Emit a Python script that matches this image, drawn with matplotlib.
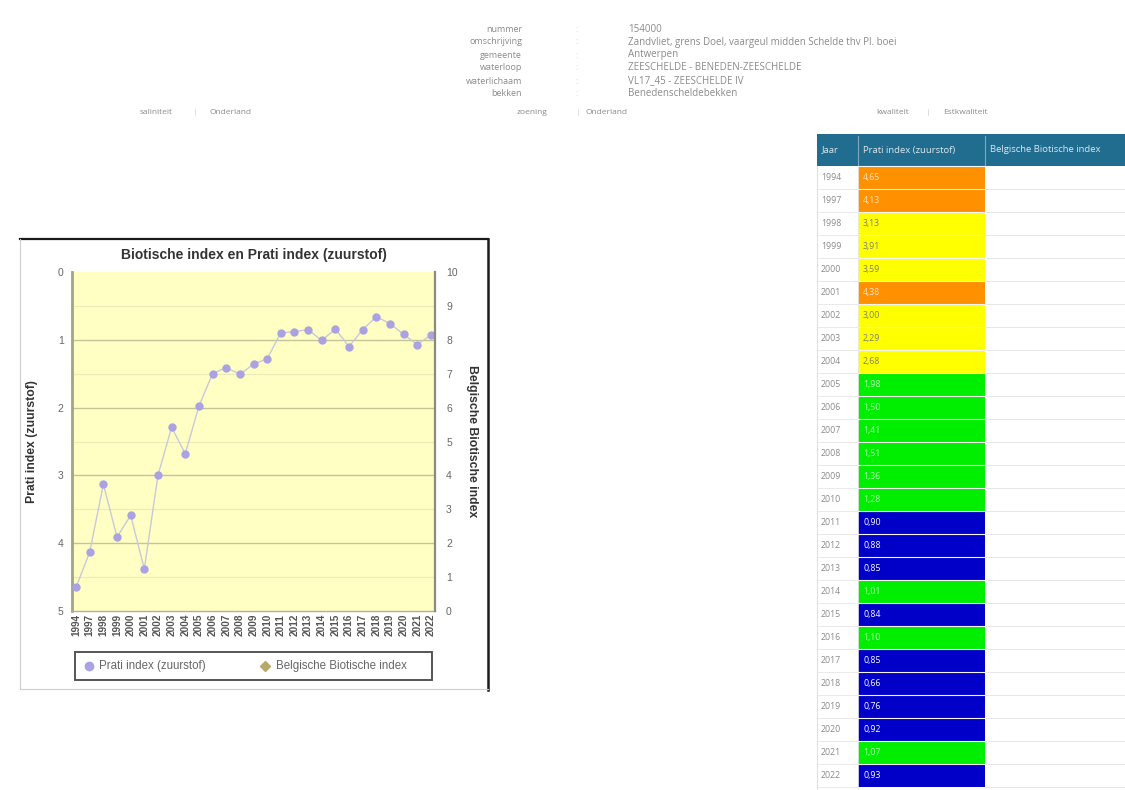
import numpy as np
import matplotlib
matplotlib.use("Agg")
import matplotlib.pyplot as plt
from matplotlib.patches import Rectangle

# ---------------- data ----------------
years = ['1994', '1997', '1998', '1999', '2000', '2001', '2002', '2003', '2004',
         '2005', '2006', '2007', '2008', '2009', '2010', '2011', '2012', '2013',
         '2014', '2015', '2016', '2017', '2018', '2019', '2020', '2021', '2022']
prati = [4.65, 4.13, 3.13, 3.91, 3.59, 4.38, 3.00, 2.29, 2.68,
         1.98, 1.50, 1.41, 1.51, 1.36, 1.28, 0.90, 0.88, 0.85,
         1.01, 0.84, 1.10, 0.85, 0.66, 0.76, 0.92, 1.07, 0.93]
bbi = []  # Belgische Biotische index: no values

info_labels = ['nummer', 'omschrijving', 'gemeente', 'waterloop', 'waterlichaam', 'bekken']
info_values = ['154000',
               'Zandvliet, grens Doel, vaargeul midden Schelde thv Pl. boei',
               'Antwerpen',
               'ZEESCHELDE - BENEDEN-ZEESCHELDE',
               'VL17_45 - ZEESCHELDE IV',
               'Benedenscheldebekken']
table_header = ['Jaar', 'Prati index (zuurstof)', 'Belgische Biotische index']
legend_labels = ['Prati index (zuurstof)', 'Belgische Biotische index']
left_ticks = [0, 1, 2, 3, 4, 5]
right_ticks = list(range(11))

W, H = 1125, 790
fig = plt.figure(figsize=(W / 100, H / 100), dpi=100)
fig.patch.set_facecolor('white')

# background axes in pixel coordinates
bg = fig.add_axes([0, 0, 1, 1])
bg.set_xlim(0, W)
bg.set_ylim(H, 0)
bg.axis('off')

page_font = ['Open Sans', 'DejaVu Sans']
chart_font = ['Liberation Sans', 'DejaVu Sans']
txt_col = '#8a8a8a'

# top info block
for i, (lab, val) in enumerate(zip(info_labels, info_values)):
    y = 29 + i * 13
    bg.text(522, y, lab, ha='right', va='center', fontsize=6.5, color=txt_col, family=page_font)
    bg.text(577, y, ':', ha='center', va='center', fontsize=6.5, color='#c8c8c8', family=page_font)
    bg.text(628, y, val, ha='left', va='center', fontsize=7, color=txt_col, family=page_font)

# link rows
links = [(140, 'saliniteit', 210, 'Onderland', 195),
         (517, 'zoening', 586, 'Onderland', 578),
         (876, 'kwaliteit', 943, 'Estkwaliteit', 928)]
for x1, t1, x2, t2, xs in links:
    bg.text(x1, 112, t1, ha='left', va='center', fontsize=6, color=txt_col, family=page_font)
    bg.text(xs, 112, '|', ha='center', va='center', fontsize=6, color='#d0d0d0', family=page_font)
    bg.text(x2, 112, t2, ha='left', va='center', fontsize=6, color=txt_col, family=page_font)

# ---------------- table ----------------
col_x = [817, 858, 985, 1125]
head_top, head_h = 134, 32
row_h = 23.0
bg.add_patch(Rectangle((col_x[0], head_top), col_x[-1] - col_x[0], head_h,
                       facecolor='#216d90', edgecolor='none'))
for cx in col_x[1:3]:
    bg.plot([cx, cx], [head_top + 2, head_top + head_h], color='#7fa8bf', lw=0.8)
for j, h in enumerate(table_header):
    bg.text(col_x[j] + 5, head_top + head_h / 2, h, ha='left', va='center',
            fontsize=6.8, color='#dce8ee', family=page_font)

palette = {'orange': ('#ff9000', '#ffe2b8'), 'yellow': ('#ffff00', '#808070'),
           'green': ('#00ee00', '#b8ffb8'), 'blue': ('#0000c8', '#ffffff')}


def cell_class(v):
    if v >= 4:
        return 'orange'
    if v >= 2:
        return 'yellow'
    if v >= 1:
        return 'green'
    return 'blue'


for i, (yr, v) in enumerate(zip(years, prati)):
    y0 = head_top + head_h + i * row_h
    fc, tc = palette[cell_class(v)]
    bg.add_patch(Rectangle((col_x[1], y0), col_x[2] - col_x[1], row_h,
                           facecolor=fc, edgecolor='none'))
    bg.plot([col_x[1], col_x[2]], [y0, y0], color='#f4f4f4', lw=0.8)
    bg.plot([col_x[0], col_x[1]], [y0 + row_h, y0 + row_h], color='#e6e6e6', lw=0.6)
    bg.plot([col_x[2], col_x[3]], [y0 + row_h, y0 + row_h], color='#e2e2e2', lw=0.6)
    bg.text(col_x[0] + 4, y0 + row_h / 2, yr, ha='left', va='center',
            fontsize=6.3, color='#8a8a8a', family=page_font)
    bg.text(col_x[1] + 5, y0 + row_h / 2, f'{v:.2f}'.replace('.', ','), ha='left',
            va='center', fontsize=6.3, color=tc, family=page_font)
bg.plot([col_x[0], col_x[0]], [head_top + head_h, H], color='#e0e0e0', lw=0.8)
bg.plot([col_x[1], col_x[1]], [head_top + head_h, H], color='#e8e8e8', lw=0.6)

# ---------------- chart frame ----------------
bg.plot([20, 488], [239, 239], color='#1a1a1a', lw=1.6)
bg.plot([488, 488], [239, 690], color='#1a1a1a', lw=1.8)
bg.plot([20, 20], [239, 689], color='#cfcfcf', lw=0.8)
bg.plot([20, 488], [689, 689], color='#cfcfcf', lw=0.8)

bg.text(254, 255, 'Biotische index en Prati index (zuurstof)', ha='center', va='center',
        fontsize=10, fontweight='bold', color='#333333', family=chart_font)

# legend (drawn as a box below the chart)
bg.add_patch(Rectangle((75, 652), 357, 28, facecolor='white', edgecolor='#555555', lw=1.4))
bg.plot([89], [666], ls='none', marker='o', ms=6, mfc='#aaa2e2', mec='#aaa2e2')
bg.text(99, 666, legend_labels[0], ha='left', va='center', fontsize=8.3,
        color='#666666', family=chart_font)
bg.plot([265], [666], ls='none', marker='D', ms=5, mfc='#b8a86a', mec='#b8a86a')
bg.text(276, 666, legend_labels[1], ha='left', va='center', fontsize=8.3,
        color='#666666', family=chart_font)

# ---------------- chart ----------------
L, R, T, B = 72, 435, 272, 611
ax = fig.add_axes([L / W, 1 - B / H, (R - L) / W, (B - T) / H])
ax.set_facecolor('#ffffc4')
x = np.arange(len(years))

for v in np.arange(0.5, 5, 0.5):
    is_major = float(v).is_integer()
    ax.axhline(v, color='#c4c49a' if is_major else '#ecebb8',
               lw=1.0 if is_major else 0.8, zorder=1)

ax.plot(x, prati, color='#c8c8dc', lw=1.0, marker='o', ms=5,
        mfc='#aaa2e2', mec='#aaa2e2', zorder=3)
ax.set_xlim(-0.3, len(years) - 0.7)
ax.set_ylim(5, 0)
ax.set_yticks(left_ticks)
ax.set_xticks(x)
ax.set_xticklabels(years, rotation=90, fontsize=7.2, fontweight='bold',
                   color='#555555', family=chart_font)
ax.tick_params(axis='x', length=0, pad=2)
ax.tick_params(axis='y', length=0, pad=6, labelsize=7.5, labelcolor='#666666')
for lab in ax.get_yticklabels():
    lab.set_family(chart_font)
ax.spines['top'].set_visible(False)
ax.spines['left'].set_color('#a4a488')
ax.spines['left'].set_linewidth(2)
ax.spines['bottom'].set_color('#b0b0a0')
ax.spines['bottom'].set_linewidth(1)
ax.spines['right'].set_visible(False)

ax.set_ylabel('Prati index (zuurstof)', fontsize=8.8, fontweight='bold',
              color='#333333', family=chart_font)
ax.yaxis.set_label_coords((38 - L) / (R - L), 0.5)

ax2 = ax.twinx()
ax2.set_ylim(0, 10)
ax2.set_yticks(right_ticks)
ax2.plot(np.arange(len(bbi)), bbi, color='#b8a86a', marker='D', ms=5, lw=1)
ax2.tick_params(axis='y', length=0, pad=8, labelsize=7.5, labelcolor='#666666')
for lab in ax2.get_yticklabels():
    lab.set_family(chart_font)
ax2.spines['top'].set_visible(False)
ax2.spines['left'].set_visible(False)
ax2.spines['bottom'].set_visible(False)
ax2.spines['right'].set_color('#8a8a80')
ax2.spines['right'].set_linewidth(1.6)
ax2.set_ylabel('Belgische Biotische index', fontsize=8.8, fontweight='bold',
               color='#333333', rotation=270, family=chart_font)
ax2.yaxis.set_label_coords((478 - L) / (R - L), 0.5)

fig.savefig('out.png', dpi=100, facecolor='white')
